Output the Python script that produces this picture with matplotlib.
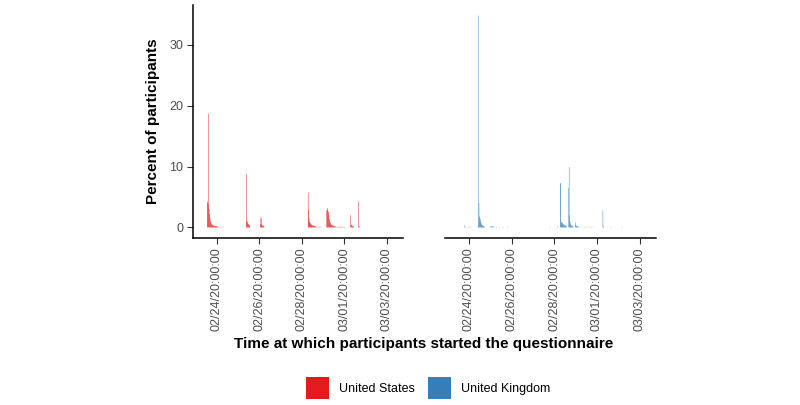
import matplotlib
matplotlib.use("Agg")
import matplotlib.pyplot as plt
import matplotlib.dates as mdates
from matplotlib.patches import Patch
import pandas as pd

plt.rcParams['font.family'] = ['Liberation Sans', 'DejaVu Sans']

# Start of each half-hour bin, hours after 2020-02-24 20:00, and percent of participants
us_hours = [-11.0, -10.5, -10.0, -9.5, -9.0, -8.5, -8.0, -7.5, -7.0, -6.5, -6.0, -5.5, -5.0, -4.5,
            -4.0, -3.5, -3.0, -2.5, -2.0, -1.5, -1.0, -0.5, 0.0, 1.0, 2.0, 3.5, 5.0, 7.0,
            33.0, 33.5, 34.0, 34.5, 35.0, 35.5, 36.0, 36.5, 37.0,
            49.0, 49.5, 50.0, 50.5, 51.0, 51.5, 52.0, 52.5, 53.0,
            103.0, 103.5, 104.0, 104.5, 105.0, 105.5, 106.0, 106.5, 107.0, 107.5, 108.0, 108.5,
            109.0, 109.5, 110.0, 110.5, 111.0, 111.5, 112.0, 113.0, 114.0, 115.0, 116.0, 117.0,
            124.0, 124.5, 125.0, 125.5, 126.0, 126.5, 127.0, 127.5, 128.0, 128.5, 129.0, 129.5,
            130.0, 130.5, 131.0, 131.5, 132.0, 132.5, 133.0, 134.0, 135.0, 136.0, 137.0, 138.0,
            139.0, 140.0, 141.0, 142.0, 143.0, 144.0,
            151.0, 151.5, 152.0, 152.5, 153.0, 153.5, 154.0, 154.5,
            160.0, 160.5, 161.0]
us_pct = [4.3, 4.0, 3.8, 18.7, 3.0, 2.2, 1.6, 1.1, 0.8, 0.6, 0.5, 0.4, 0.4, 0.3,
          0.3, 0.3, 0.2, 0.2, 0.2, 0.2, 0.2, 0.2, 0.2, 0.1, 0.1, 0.1, 0.1, 0.1,
          1.1, 8.8, 1.0, 0.8, 0.6, 0.5, 0.5, 0.4, 0.2,
          0.5, 1.6, 1.5, 0.5, 0.4, 0.3, 0.3, 0.2, 0.2,
          5.7, 2.8, 1.6, 1.0, 0.8, 0.7, 0.6, 0.5, 0.4, 0.4, 0.3, 0.3,
          0.3, 0.2, 0.2, 0.2, 0.2, 0.1, 0.1, 0.1, 0.1, 0.1, 0.1, 0.1,
          2.8, 3.2, 2.9, 2.7, 2.5, 2.0, 1.4, 1.0, 0.8, 0.6, 0.5, 0.4,
          0.4, 0.3, 0.3, 0.3, 0.2, 0.2, 0.2, 0.2, 0.1, 0.1, 0.1, 0.1,
          0.1, 0.1, 0.1, 0.1, 0.1, 0.1,
          2.0, 0.5, 0.4, 0.3, 0.3, 0.2, 0.2, 0.1,
          4.2, 0.3, 0.1]

uk_hours = [-5.0, -4.0, -2.0, 0.0, 2.0,
            10.0, 10.5, 11.0, 11.5, 12.0, 12.5, 13.0, 13.5, 14.0, 14.5, 15.0, 15.5, 16.0, 16.5,
            17.0, 17.5,
            24.0, 25.0, 26.0, 27.0, 29.0, 31.0, 34.0, 38.0, 43.0,
            91.0, 99.5,
            102.5, 103.0, 103.5, 104.0, 104.5, 105.0, 105.5, 106.0, 106.5, 107.0, 107.5, 108.0,
            108.5, 109.0, 109.5,
            112.0, 112.5, 113.0, 113.5, 114.0, 114.5, 115.0, 115.5, 116.0, 116.5, 117.0,
            119.5, 120.0, 120.5, 121.0, 121.5, 122.0, 123.0, 124.0, 126.0, 128.0, 130.0, 132.0,
            134.0, 136.0, 138.0, 140.0,
            150.5, 151.0, 159.5, 172.0]
uk_pct = [0.3, 0.1, 0.1, 0.1, 0.1,
          0.3, 34.8, 4.0, 1.8, 1.6, 1.3, 1.0, 0.7, 0.5, 0.4, 0.3, 0.3, 0.2, 0.2,
          0.1, 0.1,
          0.2, 0.2, 0.3, 0.2, 0.1, 0.1, 0.1, 0.1, 0.1,
          0.1, 0.2,
          7.3, 7.2, 0.8, 0.9, 0.7, 0.8, 0.6, 0.5, 0.5, 0.4, 0.3, 0.3,
          0.3, 0.2, 0.2,
          6.5, 9.9, 2.0, 1.0, 0.6, 0.4, 0.3, 0.3, 0.2, 0.2, 0.2,
          0.8, 0.4, 0.3, 0.2, 0.2, 0.2, 0.1, 0.1, 0.1, 0.1, 0.1, 0.1,
          0.1, 0.1, 0.1, 0.1,
          2.8, 0.2, 0.1, 0.1]

countries = ["United States", "United Kingdom"]
colors = ["#E41A1C", "#377EB8"]
base_time = pd.Timestamp("2020-02-24 20:00:00")
tick_times = ["2020-02-24 20:00", "2020-02-26 20:00", "2020-02-28 20:00",
              "2020-03-01 20:00", "2020-03-03 20:00"]
y_ticks = [0, 10, 20, 30]
bin_hours = 0.5

fig = plt.figure(figsize=(8, 4.05), dpi=100)
W, H = 800, 405
panels = [(193, 403), (445, 656)]
top, bottom = 5, 238

xmin = base_time + pd.Timedelta(hours=-27)
xmax = base_time + pd.Timedelta(hours=210.5)

axes = []
for i, (hours, pct) in enumerate([(us_hours, us_pct), (uk_hours, uk_pct)]):
    x0, x1 = panels[i]
    ax = fig.add_axes([x0 / W, 1 - bottom / H, (x1 - x0) / W, (bottom - top) / H])
    times = [base_time + pd.Timedelta(hours=h) for h in hours]
    bars = ax.bar(times, pct, width=bin_hours / 24, align='edge', color=colors[i],
                  linewidth=0, antialiased=True)
    for b in bars:
        b.set_snap(False)
    ax.set_xlim(xmin, xmax)
    ax.set_ylim(-1.74, 36.54)
    ax.set_xticks([pd.Timestamp(t) for t in tick_times])
    ax.xaxis.set_major_formatter(mdates.DateFormatter('%m/%d/%H:%M:%S'))
    for lab in ax.get_xticklabels():
        lab.set_rotation(90)
    ax.tick_params(axis='x', labelsize=9, labelcolor='#4d4d4d', color='#333333',
                   length=4, width=0.8, pad=3)
    ax.spines['top'].set_visible(False)
    ax.spines['right'].set_visible(False)
    ax.spines['bottom'].set_linewidth(1.1)
    if i == 0:
        ax.set_yticks(y_ticks)
        ax.tick_params(axis='y', labelsize=9, labelcolor='#4d4d4d', color='#333333',
                       length=4, width=0.8, pad=3)
        ax.spines['left'].set_linewidth(1.1)
        ax.set_ylabel("Percent of participants", fontsize=11, fontweight='bold', labelpad=7)
    else:
        ax.spines['left'].set_visible(False)
        ax.set_yticks([])
    axes.append(ax)

fig.text(424 / W, 1 - 344 / H, "Time at which participants started the questionnaire",
         ha='center', va='center', fontsize=11, fontweight='bold')

handles = [Patch(facecolor=c, edgecolor='none', label=n) for c, n in zip(colors, countries)]
fig.legend(handles=handles, loc='center', bbox_to_anchor=(428 / W, 1 - 388 / H), ncol=2,
           frameon=False, fontsize=9, handlelength=1.85, handleheight=2.4,
           columnspacing=1.0, handletextpad=0.8)

fig.savefig("out.png", dpi=100)
